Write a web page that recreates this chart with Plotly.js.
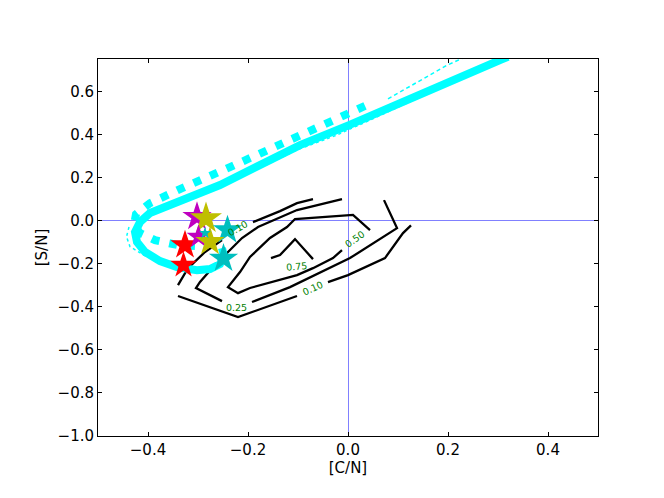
<!DOCTYPE html>
<html>
<head>
<meta charset="utf-8">
<script src="https://cdn.plot.ly/plotly-3.0.1.min.js"></script>
<style>html,body{margin:0;padding:0;background:#fff;}#chart{width:664px;height:498px;}</style>
</head>
<body>
<div id="chart"></div>
<script>
// ---- Cyan model tracks ----
var bandX = [0.32, 0.304, 0.002, -0.096, -0.256, -0.356, -0.396, -0.416, -0.426, -0.422, -0.406, -0.376, -0.342, -0.302, -0.276, -0.256, -0.248, -0.252];
var bandY = [0.76, 0.745, 0.443, 0.35, 0.165, 0.077, 0.035, -0.007, -0.053, -0.1, -0.146, -0.188, -0.216, -0.23, -0.225, -0.202, -0.165, -0.128];

var dotX = [0.034, -0.096, -0.236, -0.336, -0.396, -0.424, -0.428, -0.416, -0.386, -0.34, -0.306];
var dotY = [0.532, 0.392, 0.248, 0.146, 0.081, 0.030, -0.021, -0.058, -0.091, -0.114, -0.118];

var thinDashX = [0.08, 0.104, 0.198, 0.235];
var thinDashY = [0.565, 0.596, 0.721, 0.76];

var thinLowX = [-0.26, -0.1, -0.022, 0.144];
var thinLowY = [0.15, 0.33, 0.397, 0.573];

var thinLoopX = [-0.438, -0.443, -0.436, -0.409, -0.363, -0.33];
var thinLoopY = [-0.03, -0.075, -0.121, -0.16, -0.199, -0.215];

// ---- Contours (levels 0.10, 0.25, 0.50, 0.75) ----
var c10aX = [-0.34, -0.32, -0.286, -0.252, null, -0.19, -0.136, -0.102, -0.07];
var c10aY = [-0.30, -0.221, -0.146, -0.091, null, -0.007, 0.044, 0.081, 0.10];
var c10bX = [-0.34, -0.22, -0.102, null, -0.04, 0.0, 0.074, 0.11, 0.126];
var c10bY = [-0.35, -0.448, -0.35, null, -0.286, -0.253, -0.174, -0.058, -0.022];
var c25X = [-0.012, -0.102, -0.18, -0.212, -0.246, -0.272, -0.296, -0.304, -0.252, null, -0.192, -0.116, 0.004, 0.098, 0.072];
var c25Y = [0.10, 0.049, -0.03, -0.081, -0.16, -0.221, -0.285, -0.313, -0.374, null, -0.378, -0.309, -0.174, -0.035, 0.095];
var c50X = [0.044, 0.01, -0.106, -0.122, -0.156, -0.196, -0.216, -0.24, -0.22, -0.196, -0.102, -0.07, -0.03, -0.012];
var c50Y = [-0.044, 0.026, 0.007, -0.03, -0.081, -0.169, -0.239, -0.309, -0.337, -0.313, -0.253, -0.221, -0.174, -0.137];
var c75X = [-0.154, -0.136, -0.106, -0.07];
var c75Y = [-0.174, -0.16, -0.086, -0.179];

var labelText = ['0.10', '0.25', '0.10', '0.50', '0.75'];
var labelX = [-0.222, -0.224, -0.072, 0.012, -0.104];
var labelY = [-0.035, -0.402, -0.313, -0.086, -0.211];
var labelAngle = [-30, 0, -24, -35, -5];

// ---- Star markers ----
var starX = [-0.326, -0.329, -0.302, -0.284, -0.241, -0.299, -0.276, -0.249, -0.286];
var starY = [-0.114, -0.207, 0.018, 0.010, -0.044, -0.075, -0.098, -0.176, -0.058];
var starColor = ['#ff0000', '#ff0000', '#bf00bf', '#bfbf00', '#00bfbf', '#bf00bf', '#bfbf00', '#00bfbf', '#00bfbf'];
var starSize = [22, 20, 22, 24, 22, 18, 22, 22, 9];

var cyan = '#00ffff';
var traces = [];
function line(x, y, color, width, dash) {
  traces.push({x: x, y: y, type: 'scatter', mode: 'lines', hoverinfo: 'skip',
    line: {color: color, width: width, dash: dash || 'solid'}, connectgaps: false, showlegend: false});
}
line(c10aX, c10aY, '#000', 2.3);
line(c10bX, c10bY, '#000', 2.3);
line(c25X, c25Y, '#000', 2.3);
line(c50X, c50Y, '#000', 2.3);
line(c75X, c75Y, '#000', 2.3);

line(thinLoopX, thinLoopY, cyan, 1.5, 'dot');
line(thinLowX, thinLowY, cyan, 1.5, 'dot');
line(thinDashX, thinDashY, cyan, 1.5, '4px,3px');
line(bandX, bandY, cyan, 8);
line(dotX, dotY, cyan, 8, '8px,10px');

traces.push({x: starX, y: starY, type: 'scatter', mode: 'markers', hoverinfo: 'skip', showlegend: false,
  marker: {symbol: 'star', size: starSize, color: starColor, opacity: 1, line: {width: 0}}});

var annotations = labelText.map(function (t, i) {
  return {x: labelX[i], y: labelY[i], text: t, showarrow: false, textangle: labelAngle[i],
    font: {family: 'DejaVu Sans', size: 9.5, color: '#008000'}, xref: 'x', yref: 'y'};
});

var axisCommon = {
  showgrid: false, showline: true, linecolor: '#000', linewidth: 1, mirror: 'ticks',
  ticks: 'inside', ticklen: 4, tickcolor: '#000', tickwidth: 1,
  zeroline: true, zerolinecolor: '#8080ff', zerolinewidth: 1,
  tickfont: {family: 'DejaVu Sans', size: 15, color: '#000'}, tickformat: '.1f'
};

var layout = {
  width: 664, height: 498,
  margin: {l: 98, r: 66, t: 59, b: 62},
  paper_bgcolor: '#fff', plot_bgcolor: '#fff',
  font: {family: 'DejaVu Sans', color: '#000'},
  xaxis: Object.assign({}, axisCommon, {range: [-0.5, 0.5], dtick: 0.2, tick0: 0,
    title: {text: '[C/N]', font: {family: 'DejaVu Sans', size: 15}, standoff: 4}}),
  yaxis: Object.assign({}, axisCommon, {range: [-1.0, 0.75], dtick: 0.2, tick0: 0,
    title: {text: '[S/N]', font: {family: 'DejaVu Sans', size: 15}, standoff: 6}}),
  annotations: annotations,
  showlegend: false
};

Plotly.newPlot('chart', traces, layout, {staticPlot: true, displayModeBar: false});
</script>
</body>
</html>
